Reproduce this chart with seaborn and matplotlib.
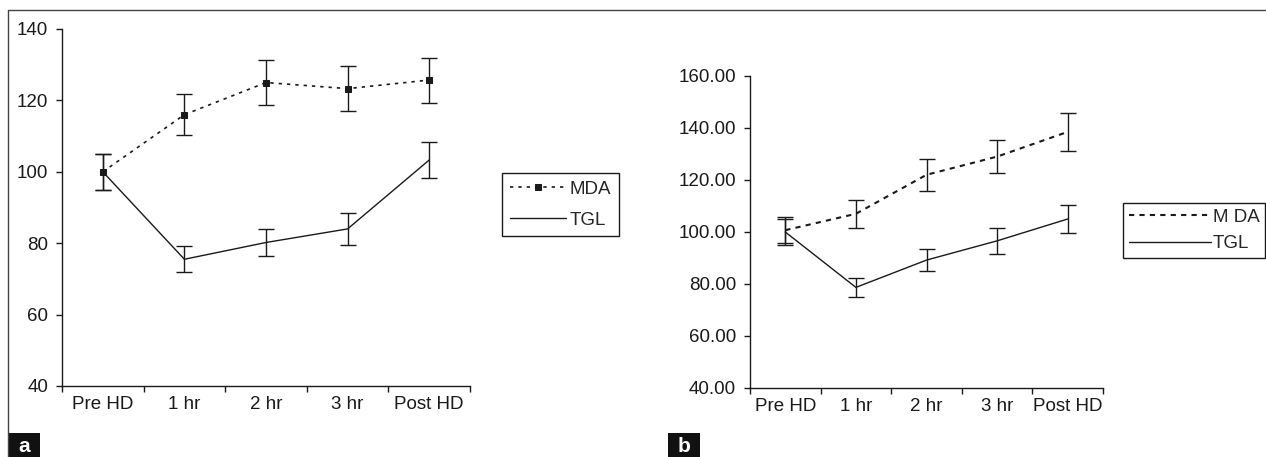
import matplotlib
matplotlib.use("Agg")
import matplotlib.pyplot as plt
import seaborn as sns
from matplotlib.patches import Rectangle
from matplotlib.lines import Line2D
from matplotlib.ticker import FixedLocator, FormatStrFormatter

# time points
categories = ["Pre HD", "1 hr", "2 hr", "3 hr", "Post HD"]

# panel a
a_mda = [100, 116, 125, 123.3, 125.7]
a_mda_err = [5, 5.8, 6.2, 6.3, 6.3]
a_tgl = [100, 75.5, 80.2, 84, 103.3]
a_tgl_err = [5, 3.7, 3.8, 4.4, 5]
a_yticks = [40, 60, 80, 100, 120, 140]

# panel b
b_mda = [100.7, 107, 122, 129, 138.5]
b_mda_err = [5, 5.4, 6.2, 6.2, 7.2]
b_tgl = [100, 78.7, 89.2, 96.6, 105]
b_tgl_err = [5, 3.7, 4.2, 5, 5.4]
b_yticks = [40, 60, 80, 100, 120, 140, 160]

sns.set_style("ticks")
plt.rcParams["font.family"] = ["Liberation Sans", "DejaVu Sans"]

INK = "#1a1a1a"
FS = 13.5

fig = plt.figure(figsize=(12.66, 4.57), dpi=100)
W, H = 1266, 457


def px_axes(left, top, right, bottom):
    return fig.add_axes([left / W, 1 - bottom / H, (right - left) / W, (bottom - top) / H])


def draw_panel(ax, mda, mda_err, tgl, tgl_err, yticks, mda_style, mda_marker, mda_lw, fmt):
    sns.lineplot(x=categories, y=mda, ax=ax, color=INK, linestyle=mda_style, lw=mda_lw,
                 marker=mda_marker, markersize=4.5, mec=INK, mfc=INK, sort=False)
    sns.lineplot(x=categories, y=tgl, ax=ax, color=INK, linestyle="-", lw=1.0, sort=False)
    ax.errorbar(categories, mda, yerr=mda_err, fmt="none", ecolor=INK, elinewidth=1.0,
                capsize=6, capthick=1.0)
    ax.errorbar(categories, tgl, yerr=tgl_err, fmt="none", ecolor=INK, elinewidth=1.0,
                capsize=6, capthick=1.0)

    ax.set_xlim(-0.5, len(categories) - 0.5)
    ax.set_ylim(yticks[0], yticks[-1])
    ax.yaxis.set_major_locator(FixedLocator(yticks))
    ax.yaxis.set_major_formatter(FormatStrFormatter(fmt))

    # boundary ticks on the x axis, labels centered in the bins
    ax.xaxis.set_major_locator(FixedLocator([i - 0.5 for i in range(len(categories) + 1)]))
    ax.set_xticklabels([""] * (len(categories) + 1))
    ax.xaxis.set_minor_locator(FixedLocator(list(range(len(categories)))))
    ax.set_xticklabels(categories, minor=True)
    ax.tick_params(axis="x", which="minor", length=0, pad=7, labelsize=FS, colors=INK)
    ax.tick_params(axis="x", which="major", length=4, width=1, direction="out", color=INK)
    ax.tick_params(axis="y", length=4, width=1, direction="out", pad=6, labelsize=FS,
                   colors=INK)

    for side in ["top", "right"]:
        ax.spines[side].set_visible(False)
    for side in ["left", "bottom"]:
        ax.spines[side].set_color(INK)
        ax.spines[side].set_linewidth(1.0)
    ax.set_xlabel("")
    ax.set_ylabel("")
    ax.grid(False)
    if ax.get_legend() is not None:
        ax.get_legend().remove()
    return ax.get_lines()[0], ax.get_lines()[1]


# panel a
ax_a = px_axes(62, 29, 470, 386)
h_mda, h_tgl = draw_panel(ax_a, a_mda, a_mda_err, a_tgl, a_tgl_err, a_yticks,
                          (0, (2, 3)), "s", 1.2, "%d")
leg_a = ax_a.legend([h_mda, h_tgl], ["MDA", "TGL"], loc="upper left",
                    bbox_to_anchor=(502 / W, 1 - 173 / H), bbox_transform=fig.transFigure,
                    borderaxespad=0, fontsize=FS, handlelength=3.0, handletextpad=0.2,
                    labelspacing=0.75, borderpad=0.4, fancybox=False, framealpha=1,
                    edgecolor=INK)
leg_a.get_frame().set_linewidth(1.0)

# panel b
ax_b = px_axes(750, 76, 1103, 388)
h_mda, h_tgl = draw_panel(ax_b, b_mda, b_mda_err, b_tgl, b_tgl_err, b_yticks,
                          (0, (2.5, 2.5)), None, 1.5, "%.2f")
leg_b = ax_b.legend([h_mda, h_tgl], ["M DA", "TGL"], loc="upper left",
                    bbox_to_anchor=(1123 / W, 1 - 203 / H), bbox_transform=fig.transFigure,
                    borderaxespad=0, fontsize=FS, handlelength=4.4, handletextpad=0.1,
                    labelspacing=0.5, borderpad=0.3, fancybox=False, framealpha=1,
                    edgecolor=INK)
leg_b.get_frame().set_linewidth(1.0)

# outer frame (top and left)
fig.add_artist(Line2D([8 / W, 1], [1 - 10 / H, 1 - 10 / H], transform=fig.transFigure,
                      color="#444444", lw=1.0))
fig.add_artist(Line2D([8 / W, 8 / W], [1 - 10 / H, 0], transform=fig.transFigure,
                      color="#444444", lw=1.0))

# panel letters
for x0, letter in [(8, "a"), (668, "b")]:
    fig.add_artist(Rectangle((x0 / W, 0), 32 / W, 24 / H, transform=fig.transFigure,
                             facecolor="#111111", edgecolor="none"))
    fig.text((x0 + 16) / W, 10 / H, letter, color="white", fontsize=15, fontweight="bold",
             ha="center", va="center")

fig.savefig("out.png", dpi=100)
plt.close(fig)
